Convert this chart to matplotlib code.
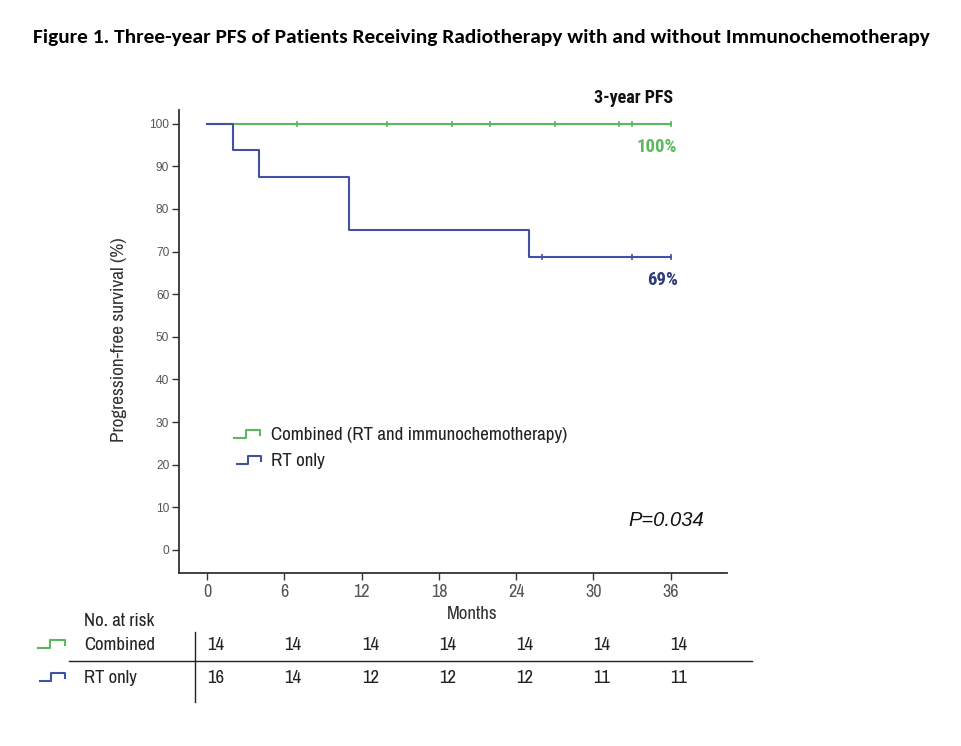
import matplotlib
matplotlib.use("Agg")
import matplotlib.pyplot as plt
from matplotlib.lines import Line2D
import matplotlib.transforms as mtransforms
import numpy as np

# ---- data ----
months_ticks = [0, 6, 12, 18, 24, 30, 36]
y_ticks = [0, 10, 20, 30, 40, 50, 60, 70, 80, 90, 100]

combined_time = [0, 36]
combined_surv = [100, 100]
combined_censor_t = [7, 14, 19, 22, 27, 32, 33, 36]

rt_event_t = [0, 2, 4, 11, 25, 36]
rt_surv = [100, 93.75, 87.5, 75, 68.75, 68.75]
rt_censor_t = [26, 33, 36]

risk_combined = [14, 14, 14, 14, 14, 14, 14]
risk_rt = [16, 14, 12, 12, 12, 11, 11]

GREEN = "#5cb85c"
BLUE = "#4152a3"
NAVY = "#2d3b7c"
NARROW = ["Liberation Sans Narrow", "Archivo Narrow", "DejaVu Sans"]
NARROW_BOLD = ["Roboto Condensed", "DejaVu Sans"]
ARIAL = ["Liberation Sans", "DejaVu Sans"]

plt.rcParams["font.family"] = NARROW

fig = plt.figure(figsize=(9.62, 7.46), dpi=100)
ax = fig.add_axes([0.186, 0.232, 0.570, 0.621])

# curves
ax.step(combined_time, combined_surv, where="post", color=GREEN, lw=1.5)
ax.plot(combined_censor_t, [100] * len(combined_censor_t), ls="none",
        marker="|", ms=4, mew=1.2, color=GREEN)

ax.step(rt_event_t, rt_surv, where="post", color=BLUE, lw=1.5)
def surv_at(t):
    s = rt_surv[0]
    for et, sv in zip(rt_event_t, rt_surv):
        if et <= t:
            s = sv
    return s
ax.plot(rt_censor_t, [surv_at(t) for t in rt_censor_t], ls="none",
        marker="|", ms=4, mew=1.2, color=BLUE)

ax.set_xlim(-2.2, 40.4)
ax.set_ylim(-5.4, 103.3)
ax.set_xticks(months_ticks)
ax.set_yticks(y_ticks)
for s in ["top", "right"]:
    ax.spines[s].set_visible(False)
for s in ["left", "bottom"]:
    ax.spines[s].set_color("#333333")
    ax.spines[s].set_linewidth(1.3)
ax.tick_params(axis="both", length=5, width=1, color="#333333", labelcolor="#555555")
ax.tick_params(axis="x", labelsize=13, pad=3)
ax.tick_params(axis="y", labelsize=8.6, pad=2)
for lab in ax.get_yticklabels():
    lab.set_family(ARIAL)
ax.set_ylabel("Progression-free survival (%)", fontsize=13.8, color="#333333")
ax.yaxis.set_label_coords(-0.095, 0.503)
ax.set_xlabel("Months", fontsize=13.6, color="#333333")
ax.xaxis.set_label_coords(0.535, -0.072)

# annotations
ax.text(36.2, 106.1, "3-year PFS", fontsize=13, fontweight="bold", ha="right", va="center",
        color="#111111", family=NARROW_BOLD)
ax.text(36.5, 94.6, "100%", fontsize=13.5, fontweight="bold", ha="right", va="center",
        color=GREEN, family=NARROW_BOLD)
ax.text(36.55, 63.4, "69%", fontsize=13.5, fontweight="bold", ha="right", va="center",
        color=NAVY, family=NARROW_BOLD)
ax.text(38.6, 7, "P=0.034", fontsize=14.5, style="italic", ha="right", va="center",
        color="#111111", family=ARIAL)

def step_icon(x0, y0, w, h, color):
    xs = [x0, x0 + 0.45 * w, x0 + 0.45 * w, x0 + w, x0 + w]
    ys = [y0, y0, y0 + h, y0 + h, y0 + 0.35 * h]
    fig.add_artist(Line2D(np.array(xs) / 962, 1 - np.array(ys) / 746,
                          color=color, lw=1.5))

# legend (manual)
step_icon(234, 438, 26, -8, GREEN)
fig.text(271 / 962, 1 - 435 / 746, "Combined (RT and immunochemotherapy)", fontsize=13.7,
         va="center", ha="left", color="#222222")
step_icon(237, 464, 24, -8, BLUE)
fig.text(271 / 962, 1 - 461 / 746, "RT only", fontsize=13.7,
         va="center", ha="left", color="#222222")

# title
fig.text(481 / 962, 1 - 37 / 746,
         "Figure 1. Three-year PFS of Patients Receiving Radiotherapy with and without Immunochemotherapy",
         fontsize=15.4, fontweight="bold", ha="center", va="center",
         family=["Carlito", "DejaVu Sans"])

# risk table
trans = mtransforms.blended_transform_factory(ax.transData, fig.transFigure)
fig.text(84 / 962, 1 - 621 / 746, "No. at risk", fontsize=13.5, va="center", color="#222222")
fig.text(84 / 962, 1 - 645 / 746, "Combined", fontsize=13.5, va="center", color="#222222")
fig.text(84 / 962, 1 - 678 / 746, "RT only", fontsize=13.5, va="center", color="#222222")
for t, n in zip(months_ticks, risk_combined):
    ax.text(t, 1 - 645 / 746, str(n), transform=trans, fontsize=13.5, ha="left",
            va="center", color="#222222")
for t, n in zip(months_ticks, risk_rt):
    ax.text(t, 1 - 678 / 746, str(n), transform=trans, fontsize=13.5, ha="left",
            va="center", color="#222222")
step_icon(38, 648, 27, -8, GREEN)
step_icon(40, 681, 25, -8, BLUE)
fig.add_artist(Line2D([69 / 962, 752 / 962], [1 - 661 / 746] * 2, color="#222222", lw=1))
fig.add_artist(Line2D([195 / 962, 195 / 962], [1 - 632 / 746, 1 - 702 / 746],
                      color="#222222", lw=1))

fig.savefig("out.png", dpi=100, facecolor="white")
